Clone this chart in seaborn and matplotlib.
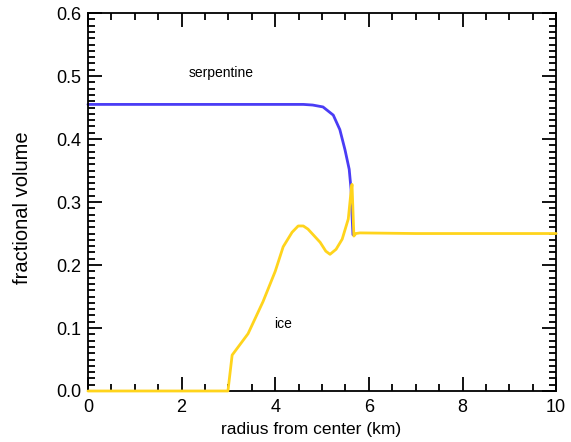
import numpy as np
import pandas as pd
import matplotlib
matplotlib.use("Agg")
import matplotlib.pyplot as plt
import seaborn as sns
from matplotlib.ticker import MultipleLocator, FormatStrFormatter

# serpentine curve
serp_r = [0.0, 1.0, 2.0, 3.0, 4.0, 4.6, 4.8, 5.02, 5.24, 5.38, 5.49, 5.58, 5.62, 5.64, 5.66, 5.7]
serp_v = [0.455, 0.455, 0.455, 0.455, 0.455, 0.455, 0.454, 0.451, 0.438, 0.415, 0.383, 0.352, 0.32, 0.28, 0.248, 0.248]

# ice curve
ice_r = [0.0, 1.0, 2.0, 2.99, 3.08, 3.42, 3.74, 4.0, 4.17, 4.36, 4.49, 4.6, 4.7, 4.96, 5.08, 5.17,
         5.3, 5.43, 5.56, 5.61, 5.64, 5.68, 5.72, 5.81, 7.0, 10.0]
ice_v = [0.0, 0.0, 0.0, 0.0, 0.057, 0.091, 0.142, 0.19, 0.229, 0.252, 0.262, 0.262, 0.257, 0.236, 0.222, 0.217,
         0.225, 0.241, 0.273, 0.31, 0.328, 0.246, 0.25, 0.251, 0.25, 0.25]

sns.set_style("ticks")
plt.rcParams["font.family"] = ["Liberation Sans", "DejaVu Sans"]
plt.rcParams["text.color"] = "black"
plt.rcParams["axes.labelcolor"] = "black"
plt.rcParams["xtick.color"] = "black"
plt.rcParams["ytick.color"] = "black"

fig = plt.figure(figsize=(5.71, 4.42), dpi=100)
ax = fig.add_axes([0.154, 0.1154, 0.82, 0.855])

sns.lineplot(x=serp_r, y=serp_v, color="#4a3cf5", linewidth=2, ax=ax, sort=False)
sns.lineplot(x=ice_r, y=ice_v, color="#ffd41c", linewidth=2, ax=ax, sort=False)
for ln in ax.lines:
    ln.set_clip_on(False)
ax.lines[1].set_zorder(5)

ax.set_xlim(0, 10)
ax.set_ylim(0, 0.6)
ax.xaxis.set_major_locator(MultipleLocator(2))
ax.xaxis.set_minor_locator(MultipleLocator(0.5))
ax.yaxis.set_major_locator(MultipleLocator(0.1))
ax.yaxis.set_minor_locator(MultipleLocator(0.01))
ax.yaxis.set_major_formatter(FormatStrFormatter("%.1f"))

ax.tick_params(which="both", direction="in", top=True, right=True, color="black", labelcolor="black")
ax.tick_params(which="major", length=10, width=1.3, labelsize=13)
ax.tick_params(axis="x", which="major", pad=6)
ax.tick_params(axis="y", which="major", pad=5)
ax.tick_params(which="minor", length=5, width=1.3)
for s in ax.spines.values():
    s.set_linewidth(1.3)
    s.set_color("black")

ax.set_xlabel("radius from center (km)", fontsize=12.5)
ax.set_ylabel("fractional volume", fontsize=14.5)
ax.xaxis.set_label_coords(0.476, -0.081)
ax.yaxis.set_label_coords(-0.12, 0.485)

ax.text(2.84, 0.505, "serpentine", fontsize=10, ha="center", va="center")
ax.text(4.17, 0.107, "ice", fontsize=10, ha="center", va="center")

fig.savefig("out.png", dpi=100)
